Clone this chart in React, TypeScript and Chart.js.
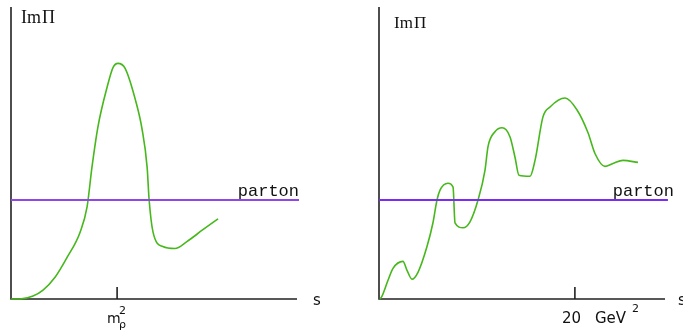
import React, { useEffect, useRef } from "react";
import { Chart, registerables } from "chart.js";

Chart.register(...registerables);

// ---- Data (arbitrary units: s along x, ImΠ along y; parton level = 1) ----
const leftS = [0, 0.31, 0.77, 1.12, 1.54, 1.96, 2.41, 2.66, 2.83, 3.04, 3.36, 3.57, 3.74, 3.99, 4.37, 4.58, 4.76, 4.83, 4.97, 5.31, 5.73, 6.15, 6.71, 7.24];
const leftIm = [0, 0, 0.03, 0.09, 0.22, 0.42, 0.67, 0.93, 1.33, 1.74, 2.14, 2.34, 2.38, 2.33, 1.99, 1.72, 1.33, 1.0, 0.67, 0.53, 0.51, 0.58, 0.7, 0.81];
const leftXMax = 10;
const rhoMassSq = 3.71;
const leftPartonEnd = 10.07;

const rightS = [0.1, 0.31, 0.92, 1.43, 2.45, 2.86, 3.37, 3.98, 4.9, 5.51, 5.92, 6.23, 7.04, 7.56, 7.76, 8.58, 9.29, 10.11, 10.82, 11.13, 11.84, 12.56, 13.37, 13.89, 14.29, 15.42, 15.93, 16.74, 17.46, 18.99, 20.22, 21.34, 22.05, 23.07, 23.89, 24.91, 26.44];
const rightIm = [0, 0.03, 0.19, 0.31, 0.38, 0.29, 0.2, 0.27, 0.53, 0.77, 1.0, 1.1, 1.17, 1.13, 0.77, 0.72, 0.78, 1.0, 1.3, 1.54, 1.69, 1.73, 1.64, 1.43, 1.25, 1.24, 1.4, 1.84, 1.94, 2.03, 1.91, 1.68, 1.47, 1.34, 1.37, 1.4, 1.38];
const rightXMax = 29.2;
const gevTick = 20;
const rightPartonEnd = 29.5;

const partonLevel = 1;
const yMax = 2.95;

type PanelProps = {
  left: number;
  width: number;
  pad: { left: number; right: number; top: number; bottom: number };
  s: number[];
  im: number[];
  xMax: number;
  tick: number;
  partonEnd: number;
  partonColor: string;
  kind: "rho" | "gev";
};

function Panel(p: PanelProps) {
  const ref = useRef<HTMLCanvasElement | null>(null);
  useEffect(() => {
    const canvas = ref.current;
    if (!canvas) return;
    const decor = {
      id: "decor",
      beforeDatasetsDraw(chart: any) {
        const { ctx, chartArea, scales } = chart;
        const x0 = scales.x.getPixelForValue(0);
        const y0 = scales.y.getPixelForValue(0);
        ctx.save();
        ctx.strokeStyle = "#222";
        ctx.lineWidth = 1.6;
        ctx.beginPath();
        ctx.moveTo(x0, chartArea.top);
        ctx.lineTo(x0, y0);
        ctx.lineTo(chartArea.right, y0);
        const tx = scales.x.getPixelForValue(p.tick);
        ctx.moveTo(tx, y0);
        ctx.lineTo(tx, y0 - 12);
        ctx.stroke();
        ctx.restore();
      },
      afterDatasetsDraw(chart: any) {
        const { ctx, chartArea, scales } = chart;
        const x0 = scales.x.getPixelForValue(0);
        const y0 = scales.y.getPixelForValue(0);
        const py = scales.y.getPixelForValue(partonLevel);
        const pe = scales.x.getPixelForValue(p.partonEnd);
        const tx = scales.x.getPixelForValue(p.tick);
        ctx.save();
        ctx.fillStyle = "#111";
        ctx.textBaseline = "alphabetic";
        // ImΠ label
        const imSize = p.kind === "rho" ? 18 : 17;
        const imX = p.kind === "rho" ? x0 + 10 : x0 + 15;
        const imY = p.kind === "rho" ? 23 : 28;
        ctx.textAlign = "left";
        ctx.font = `${imSize}px "Liberation Serif"`;
        ctx.fillText("Im", imX, imY);
        const w = ctx.measureText("Im").width;
        ctx.fillText("Π", imX + w + 1, imY);
        // parton label
        ctx.font = '17px "Liberation Mono"';
        ctx.textAlign = "right";
        ctx.fillText("parton", p.kind === "rho" ? pe : pe + 6, py - 4);
        // s label
        ctx.textAlign = "left";
        ctx.font = '15px "DejaVu Sans"';
        ctx.fillText("s", chartArea.right + (p.kind === "rho" ? 16 : 13), y0 + 6);
        // tick label
        if (p.kind === "rho") {
          ctx.font = '14px "DejaVu Sans"';
          ctx.fillText("m", tx - 10, y0 + 24);
          ctx.font = '11px "DejaVu Sans"';
          ctx.fillText("2", tx + 2, y0 + 15);
          ctx.fillText("ρ", tx + 2, y0 + 29);
        } else {
          ctx.font = '15px "DejaVu Sans"';
          ctx.fillText("20", tx - 13, y0 + 24);
          ctx.fillText("GeV", tx + 20, y0 + 24);
          ctx.font = '11px "DejaVu Sans"';
          ctx.fillText("2", tx + 57, y0 + 13);
        }
        ctx.restore();
      },
    };
    const chart = new Chart(canvas, {
      type: "line",
      data: {
        datasets: [
          {
            data: [
              { x: 0, y: partonLevel },
              { x: p.partonEnd, y: partonLevel },
            ],
            borderColor: p.partonColor,
            borderWidth: 2,
            pointRadius: 0,
            clip: false as any,
          },
          {
            data: p.s.map((x, i) => ({ x, y: p.im[i] })),
            borderColor: "#46b81c",
            borderWidth: 1.6,
            pointRadius: 0,
            cubicInterpolationMode: "monotone",
            clip: false as any,
          },
        ],
      },
      options: {
        animation: false,
        responsive: false,
        devicePixelRatio: 1,
        layout: { padding: p.pad },
        plugins: { legend: { display: false }, tooltip: { enabled: false } },
        events: [],
        scales: {
          x: { type: "linear", min: 0, max: p.xMax, display: false },
          y: { type: "linear", min: 0, max: yMax, display: false },
        },
      },
      plugins: [decor],
    } as any);
    return () => chart.destroy();
  }, []);
  return (
    <canvas
      ref={ref}
      width={p.width}
      height={333}
      style={{ position: "absolute", left: p.left, top: 0, width: p.width, height: 333 }}
    />
  );
}

export default function App() {
  return (
    <div style={{ position: "fixed", left: 0, top: 0, width: 683, height: 333, background: "#fff", overflow: "hidden" }}>
      <Panel
        left={0}
        width={340}
        pad={{ left: 11, right: 43, top: 7, bottom: 34 }}
        s={leftS}
        im={leftIm}
        xMax={leftXMax}
        tick={rhoMassSq}
        partonEnd={leftPartonEnd}
        partonColor="#9146ec"
        kind="rho"
      />
      <Panel
        left={340}
        width={343}
        pad={{ left: 39, right: 18, top: 7, bottom: 34 }}
        s={rightS}
        im={rightIm}
        xMax={rightXMax}
        tick={gevTick}
        partonEnd={rightPartonEnd}
        partonColor="#7b2bf5"
        kind="gev"
      />
    </div>
  );
}
